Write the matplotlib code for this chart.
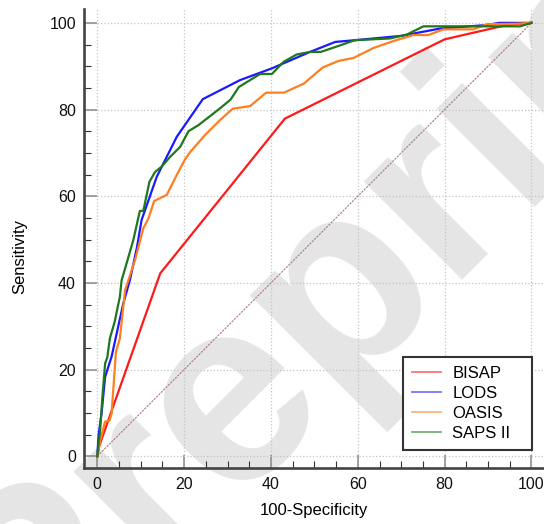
import numpy as np
import matplotlib
matplotlib.use('Agg')
import matplotlib.pyplot as plt
from matplotlib.ticker import MultipleLocator
from matplotlib.lines import Line2D

plt.rcParams['font.family'] = ['Liberation Sans', 'DejaVu Sans']

# ROC curves (100-Specificity, Sensitivity)
bisap_x = [0, 0.5, 2.5, 14.5, 43.2, 80.0, 94.3, 100]
bisap_y = [0, 2.5, 8.2, 42.2, 77.9, 96.2, 99.5, 100]

lods_x = [0, 0.3, 1.0, 1.8, 3.3, 6.0, 7.5, 9.1, 10.2, 13.7, 18.3, 24.3, 32.9, 40.2,
          49.0, 54.8, 59.3, 70.0, 79.0, 89.7, 92.5, 100]
lods_y = [0, 5, 10, 18.3, 23.0, 35.3, 40.6, 48, 54.5, 64.5, 73.7, 82.4, 86.8, 89.5,
          93.3, 95.6, 96.0, 97, 98.7, 99.5, 100, 100]

oasis_x = [0, 0.6, 1.8, 2.8, 3.3, 4.3, 5.2, 6.4, 8.7, 10.6, 11.8, 13.1, 16.0, 18.3,
           20.2, 21.4, 24.8, 28.3, 31.2, 35.2, 38.9, 43.0, 47.6, 51.9, 55.5, 59.0,
           63.6, 68.2, 72.8, 76.3, 79.7, 86.6, 89.7, 96.6, 100]
oasis_y = [0, 3.3, 8.0, 8.2, 9.9, 24.1, 27.2, 38.3, 45.3, 52.6, 54.9, 58.9, 60.3, 64.9,
           68.5, 70.2, 74.1, 77.6, 80.2, 80.8, 83.9, 83.9, 86.0, 89.7, 91.2, 91.9,
           94.2, 95.8, 97.2, 97.2, 98.5, 98.5, 99.7, 99.8, 100]

saps_x = [0, 0.3, 0.6, 1.2, 1.8, 2.3, 2.9, 4.0, 5.2, 5.6, 6.4, 8.3, 9.8, 10.6, 12.0,
          13.3, 14.8, 16.8, 19.1, 21.0, 23.3, 28.3, 30.7, 32.6, 35.2, 37.5, 40.2,
          42.9, 45.9, 49.0, 51.5, 55.9, 59.3, 67.4, 71.3, 75.1, 97.4, 100]
saps_y = [0, 3, 5.3, 14, 21.4, 22.8, 27.2, 31, 36.8, 40.6, 43.3, 49.9, 56.6, 56.6, 63.3,
          65.6, 66.8, 69.1, 71.4, 75.0, 76.4, 80.3, 82.3, 85.2, 86.8, 88.2, 88.2,
          91.0, 92.7, 93.3, 93.3, 94.8, 96.0, 96.4, 97.3, 99.2, 99.2, 100]

names = ['BISAP', 'LODS', 'OASIS', 'SAPS II']
colors = ['#ff1a1a', '#1a1aff', '#ff7f1e', '#1e781e']
ref_line = [0, 100]

fig = plt.figure(figsize=(5.44, 5.24), dpi=100)
fig.patch.set_facecolor('white')

# watermark, kept behind the axes
fig.text(0.625, 0.45, 'Preprint', fontsize=190, fontweight='bold', color='#e5e5e5',
         rotation=45, ha='center', va='center', zorder=-1)

ax = fig.add_axes([84/544, 56/524, 464/544, 459/524])
ax.patch.set_alpha(0)
ax.set_xlim(-3.06, 103.8)
ax.set_ylim(-2.72, 103.2)

ax.plot(ref_line, ref_line, color='#b07878', lw=0.8, ls=(0, (2, 1)), zorder=2)
series = [(bisap_x, bisap_y), (lods_x, lods_y), (oasis_x, oasis_y), (saps_x, saps_y)]
for (xs, ys), c in zip(series, colors):
    ax.plot(xs, ys, color=c, lw=1.6, zorder=3, solid_joinstyle='round')

for s in ['top', 'right']:
    ax.spines[s].set_visible(False)
for s in ['left', 'bottom']:
    ax.spines[s].set_color('#444444')
    ax.spines[s].set_linewidth(1.9)

ax.xaxis.set_major_locator(MultipleLocator(20))
ax.yaxis.set_major_locator(MultipleLocator(20))
ax.xaxis.set_minor_locator(MultipleLocator(5))
ax.yaxis.set_minor_locator(MultipleLocator(5))
ax.tick_params(which='major', direction='in', length=9.4, width=1.1, color='#8a8a8a',
               labelsize=11.5, labelcolor='#111111')
ax.tick_params(axis='y', which='major', pad=5.8)
ax.tick_params(axis='x', which='major', pad=6.5)
ax.tick_params(which='minor', direction='in', length=4.7, width=0.8, color='#333333')
ax.grid(True, which='major', color='#c4c4c4', ls=':', lw=0.9)
ax.set_axisbelow(True)

ax.set_xlabel('100-Specificity', fontsize=12)
ax.set_ylabel('Sensitivity', fontsize=12)
ax.xaxis.set_label_coords(0.496, -0.076)
ax.yaxis.set_label_coords(-0.123, 0.46)

handles = [Line2D([], [], color=c, lw=1.3, alpha=0.6) for c in colors]
leg = ax.legend(handles, names, loc='lower left', bbox_to_anchor=(0.6875, 0.039, 0.278, 0.205),
                mode='expand', fontsize=12, frameon=True, fancybox=False, framealpha=1,
                edgecolor='#333333', borderpad=0.55, handlelength=1.75, handletextpad=0.65,
                labelspacing=0.3, borderaxespad=0)
leg.get_frame().set_linewidth(1.5)

plt.savefig('out.png', dpi=100)
